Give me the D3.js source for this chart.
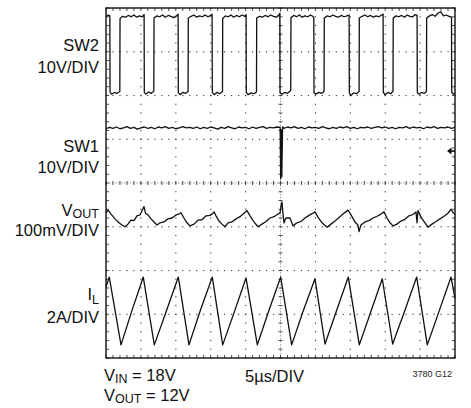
<!DOCTYPE html>
<html><head><meta charset="utf-8">
<script src="https://cdn.jsdelivr.net/npm/d3@7"></script>
<style>
html,body{margin:0;padding:0;background:#fff;}
svg{display:block;font-family:"Liberation Sans",Arial,Helvetica,sans-serif;}
</style></head>
<body>
<svg id="c" width="471" height="408"></svg>
<script>
// ---- data (time in µs, values in screen divisions; centre line = 0) ----
const timeDomain = [0, 50];          // 5 µs/DIV, 10 divisions
const divDomain = [-4, 4];           // 8 vertical divisions

const sw2 = [[0,3.80],[0.3,3.84],[0.55,3.82],[0.58,2.08],[0.8,2.03],[1.2,2.07],[1.6,2.05],[1.98,2.09],[2.01,3.76],
[2.4,3.81],[2.8,3.79],[3.2,3.83],[3.6,3.80],[4.0,3.84],[4.4,3.79],[4.8,3.82],[5.2,3.80],[5.46,3.85],[5.49,2.07],
[5.7,2.03],[6.1,2.08],[6.5,2.05],[6.85,2.10],[6.88,3.77],
[7.3,3.82],[7.7,3.80],[8.1,3.84],[8.5,3.79],[8.9,3.83],[9.3,3.81],[9.7,3.78],[10.1,3.82],[10.33,3.86],[10.36,2.06],
[10.6,2.02],[11.0,2.07],[11.4,2.05],[11.76,2.09],[11.79,3.77],
[12.2,3.81],[12.6,3.84],[13.0,3.79],[13.4,3.82],[13.8,3.80],[14.2,3.84],[14.6,3.80],[15.0,3.83],[15.2,3.86],[15.23,2.07],
[15.5,2.02],[15.9,2.07],[16.3,2.04],[16.69,2.09],[16.72,3.76],
[17.1,3.82],[17.5,3.80],[17.9,3.84],[18.3,3.79],[18.7,3.83],[19.1,3.80],[19.5,3.84],[19.9,3.81],[20.07,3.85],[20.10,2.07],
[20.35,2.02],[20.8,2.06],[21.2,2.04],[21.56,2.08],[21.59,3.77],
[22.0,3.81],[22.4,3.79],[22.8,3.83],[23.2,3.80],[23.6,3.84],[24.0,3.81],[24.4,3.79],[24.75,3.84],[24.90,3.88],[24.93,2.06],
[25.2,2.03],[25.6,2.07],[26.0,2.05],[26.3,2.09],[26.47,2.12],[26.50,3.78],
[26.9,3.83],[27.3,3.80],[27.7,3.84],[28.1,3.79],[28.5,3.82],[28.9,3.80],[29.3,3.84],[29.6,3.81],[29.77,3.79],[29.80,2.07],
[30.05,2.03],[30.5,2.07],[30.9,2.05],[31.24,2.09],[31.27,3.77],
[31.7,3.82],[32.1,3.80],[32.5,3.84],[32.9,3.81],[33.3,3.79],[33.7,3.83],[34.1,3.80],[34.5,3.82],[34.83,3.84],[34.86,2.06],
[35.1,2.00],[35.5,2.06],[35.9,2.04],[36.26,2.09],[36.29,3.77],
[36.7,3.81],[37.1,3.84],[37.5,3.80],[37.9,3.83],[38.3,3.79],[38.7,3.82],[39.1,3.80],[39.5,3.84],[39.70,3.86],[39.73,2.07],
[39.95,2.02],[40.4,2.07],[40.8,2.04],[41.12,2.10],[41.15,3.77],
[41.55,3.82],[41.95,3.80],[42.35,3.83],[42.75,3.79],[43.15,3.84],[43.55,3.81],[43.95,3.80],[44.3,3.85],[44.57,3.83],[44.60,2.07],
[44.85,2.03],[45.2,2.07],[45.6,2.05],[45.91,2.09],[45.94,3.77],
[46.35,3.82],[46.75,3.85],[47.15,3.81],[47.55,3.88],[47.95,3.91],[48.35,3.82],[48.75,3.84],[49.15,3.81],[49.50,3.79],[49.53,2.07],
[49.8,2.03],[50,2.06]];

const sw1 = [[0,1.24],[0.5,1.27],[1,1.25],[1.5,1.28],[2,1.24],[2.5,1.26],[3,1.29],[3.5,1.25],[4,1.27],[4.5,1.23],
[5,1.26],[5.5,1.28],[6,1.25],[6.5,1.27],[7,1.24],[7.5,1.28],[8,1.26],[8.5,1.29],[9,1.25],[9.5,1.27],
[10,1.24],[10.5,1.26],[11,1.29],[11.5,1.26],[12,1.27],[12.5,1.25],[13,1.28],[13.5,1.24],[14,1.27],[14.5,1.25],
[15,1.28],[15.5,1.26],[16,1.23],[16.5,1.27],[17,1.25],[17.5,1.29],[18,1.26],[18.5,1.24],[19,1.28],[19.5,1.26],
[20,1.27],[20.5,1.24],[21,1.28],[21.5,1.25],[22,1.27],[22.5,1.29],[23,1.25],[23.5,1.27],[24,1.26],[24.5,1.28],
[24.95,1.27],[25.02,0.10],[25.10,1.22],[25.18,0.14],[25.3,1.28],
[25.5,1.25],[26,1.28],[26.5,1.26],[27,1.29],[27.5,1.25],[28,1.27],[28.5,1.24],[29,1.28],[29.5,1.26],
[30,1.27],[30.5,1.25],[31,1.29],[31.5,1.26],[32,1.24],[32.5,1.27],[33,1.25],[33.5,1.28],[34,1.26],[34.5,1.29],
[35,1.25],[35.5,1.27],[36,1.24],[36.5,1.27],[37,1.26],[37.5,1.28],[38,1.25],[38.5,1.27],[39,1.29],[39.5,1.26],
[40,1.28],[40.5,1.25],[41,1.27],[41.5,1.24],[42,1.27],[42.5,1.26],[43,1.29],[43.5,1.25],[44,1.28],[44.5,1.26],
[45,1.27],[45.5,1.24],[46,1.28],[46.5,1.26],[47,1.29],[47.5,1.25],[48,1.27],[48.5,1.26],[49,1.28],[49.5,1.25],[50,1.27]];

const vout = [[0,-0.68],[0.29,-0.62],[0.72,-0.71],[1.29,-0.82],[1.86,-0.91],[2.29,-0.96],[2.72,-1.00],[3.15,-0.94],[3.58,-0.85],[4.01,-0.86],
[4.44,-0.75],[4.87,-0.73],[5.30,-0.59],[5.44,-0.54],[5.66,-0.69],[6.02,-0.73],[6.45,-0.82],[6.88,-0.89],[7.31,-0.96],[7.74,-0.91],
[8.31,-0.89],[8.88,-0.82],[9.46,-0.80],[10.03,-0.73],[10.46,-0.71],[10.74,-0.68],[11.17,-0.80],[11.60,-0.91],[12.03,-0.98],[12.61,-0.94],
[13.18,-0.85],[13.75,-0.84],[14.33,-0.75],[14.90,-0.74],[15.33,-0.69],[15.47,-0.66],[15.76,-0.75],[16.19,-0.87],[16.62,-0.94],[17.05,-1.00],
[17.48,-0.91],[18.05,-0.89],[18.62,-0.82],[19.20,-0.77],[19.77,-0.69],[20.20,-0.63],[20.63,-0.75],[21.20,-0.89],[21.78,-1.00],[22.35,-0.94],
[22.92,-0.88],[23.50,-0.80],[24.07,-0.77],[24.64,-0.71],[24.93,-0.69],[25.07,-0.53],[25.21,-0.43],[25.36,-0.71],[25.50,-0.91],[25.79,-0.80],
[26.36,-0.80],[26.79,-0.98],[27.36,-0.91],[27.94,-0.88],[28.51,-0.80],[29.08,-0.74],[29.66,-0.69],[29.94,-0.66],[30.37,-0.78],[30.95,-0.91],
[31.66,-1.01],[32.23,-0.94],[32.81,-0.87],[33.38,-0.79],[33.95,-0.71],[34.67,-0.62],[35.10,-0.73],[35.67,-0.89],[36.10,-0.96],[36.25,-1.11],
[36.53,-0.96],[37.11,-0.89],[37.68,-0.86],[38.25,-0.80],[38.83,-0.76],[39.40,-0.71],[39.83,-0.66],[40.26,-0.80],[40.69,-0.91],[41.12,-0.98],
[41.69,-0.94],[42.26,-0.87],[42.84,-0.83],[43.41,-0.75],[43.98,-0.72],[44.41,-0.66],[44.56,-0.91],[44.70,-0.63],[45.13,-0.78],[45.70,-0.91],
[46.13,-1.01],[46.70,-0.94],[47.28,-0.88],[47.85,-0.82],[48.42,-0.76],[49.00,-0.69],[49.43,-0.60],[49.71,-0.67],[50.00,-0.73]];

const il = [[0,-2.38],[0.47,-2.15],[2.15,-3.70],[3.75,-2.90],[5.34,-2.15],[6.92,-3.70],[8.6,-2.95],[10.36,-2.15],[11.89,-3.70],[13.5,-2.92],
[15.23,-2.15],[16.72,-3.70],[18.4,-2.94],[20.06,-2.17],[21.68,-3.70],[23.3,-2.93],[25.03,-2.15],[26.60,-3.70],[28.2,-2.95],[29.94,-2.19],
[31.38,-3.68],[33.0,-2.93],[34.71,-2.15],[36.29,-3.70],[37.9,-2.96],[39.58,-2.19],[41.07,-3.68],[42.8,-2.92],[44.51,-2.15],[46.03,-3.70],
[47.7,-2.94],[49.43,-2.15],[50,-2.63]];

const sw1Marker = 0.73;   // ground-level arrow for SW1 (divisions)

const channelLabels = [
  {main:"SW2", sub:"", scale:"10V/DIV"},
  {main:"SW1", sub:"", scale:"10V/DIV"},
  {main:"V", sub:"OUT", scale:"100mV/DIV"},
  {main:"I", sub:"L", scale:"2A/DIV"}
];
const footLeft = [{main:"V", sub:"IN", rest:" = 18V"}, {main:"V", sub:"OUT", rest:" = 12V"}];
const footCenter = "5µs/DIV";
const footRight = "3780 G12";

// ---- layout ----
const svg = d3.select("#c");
const L = 106, R = 455, T = 8, B = 358;
const x = d3.scaleLinear().domain(timeDomain).range([L, R]);
const y = d3.scaleLinear().domain(divDomain).range([B, T]);

const g = svg.append("g");
const minorX = d3.range(0, 50.001, 1);      // 1/5 division steps in µs
const minorY = d3.range(-4, 4.001, 0.2);

// dotted grid lines
const gridC = "#3a3a3a";
[-3,-2,-1,1,2,3].forEach(v => {
  g.selectAll(null).data(minorX).enter().append("rect")
    .attr("x", d => x(d) - 0.6).attr("y", y(v) - 0.5).attr("width", 1.2).attr("height", 1.1).attr("fill", gridC);
});
[5,10,15,20,30,35,40,45].forEach(t => {
  g.selectAll(null).data(minorY).enter().append("rect")
    .attr("x", x(t) - 0.5).attr("y", d => y(d) - 0.6).attr("width", 1.1).attr("height", 1.2).attr("fill", gridC);
});
// centre cross with ticks
g.append("line").attr("x1", L).attr("x2", R).attr("y1", y(0)).attr("y2", y(0))
  .attr("stroke", "#888").attr("stroke-width", 0.8).attr("stroke-dasharray", "1.5,1.5");
g.append("line").attr("y1", T).attr("y2", B).attr("x1", x(25)).attr("x2", x(25))
  .attr("stroke", "#888").attr("stroke-width", 0.8).attr("stroke-dasharray", "1.5,1.5");
g.selectAll(null).data(minorX).enter().append("line")
  .attr("x1", d => x(d)).attr("x2", d => x(d)).attr("y1", y(0) - 2).attr("y2", y(0) + 2)
  .attr("stroke", gridC).attr("stroke-width", 0.9);
g.selectAll(null).data(minorY).enter().append("line")
  .attr("y1", d => y(d)).attr("y2", d => y(d)).attr("x1", x(25) - 2).attr("x2", x(25) + 2)
  .attr("stroke", gridC).attr("stroke-width", 0.9);
// border ticks
g.selectAll(null).data(minorX).enter().append("line")
  .attr("x1", d => x(d)).attr("x2", d => x(d)).attr("y1", B).attr("y2", B - 3)
  .attr("stroke", gridC).attr("stroke-width", 0.9);
g.selectAll(null).data(minorX).enter().append("line")
  .attr("x1", d => x(d)).attr("x2", d => x(d)).attr("y1", T).attr("y2", T + 3)
  .attr("stroke", gridC).attr("stroke-width", 0.9);
g.selectAll(null).data(minorY).enter().append("line")
  .attr("y1", d => y(d)).attr("y2", d => y(d)).attr("x1", L).attr("x2", L + 3)
  .attr("stroke", gridC).attr("stroke-width", 0.9);
g.selectAll(null).data(minorY).enter().append("line")
  .attr("y1", d => y(d)).attr("y2", d => y(d)).attr("x1", R).attr("x2", R - 3)
  .attr("stroke", gridC).attr("stroke-width", 0.9);
// frame
g.append("rect").attr("x", L).attr("y", T).attr("width", R - L).attr("height", B - T)
  .attr("fill", "none").attr("stroke", "#111").attr("stroke-width", 1.4);

// traces
const line = d3.line().x(d => x(d[0])).y(d => y(d[1]));
[sw2, sw1, vout, il].forEach(s => {
  g.append("path").datum(s).attr("d", line).attr("fill", "none")
    .attr("stroke", "#111").attr("stroke-width", 1.3).attr("stroke-linejoin", "round");
});

// SW1 marker arrow
const my = y(sw1Marker);
g.append("path").attr("d", `M${R-8},${my} L${R-3.5},${my-3.5} L${R-3.5},${my+3.5} Z`).attr("fill", "#111");
g.append("line").attr("x1", R - 4).attr("x2", R).attr("y1", my).attr("y2", my).attr("stroke", "#111").attr("stroke-width", 1.6);

// channel labels
const labelX = 99, fs = 16.5, sfs = 12.5;
const labelY = [[51, 73], [152, 173], [215.5, 235.5], [300, 323]];
channelLabels.forEach((c, i) => {
  const t1 = svg.append("text").attr("x", labelX).attr("y", labelY[i][0]).attr("text-anchor", "end")
    .attr("font-size", fs).attr("fill", "#111");
  t1.append("tspan").text(c.main);
  if (c.sub) t1.append("tspan").attr("font-size", sfs).attr("dy", c.sub === "L" ? 4 : 2.5).text(c.sub);
  svg.append("text").attr("x", labelX).attr("y", labelY[i][1]).attr("text-anchor", "end")
    .attr("font-size", fs).attr("fill", "#111").text(c.scale);
});

// footer condition lines
[381, 401].forEach((yy, i) => {
  const f = footLeft[i];
  const t = svg.append("text").attr("x", 104).attr("y", yy).attr("font-size", fs).attr("fill", "#111");
  t.append("tspan").text(f.main);
  t.append("tspan").attr("font-size", sfs).attr("dy", 2).text(f.sub);
  t.append("tspan").attr("dy", -2).text(f.rest);
});
svg.append("text").attr("x", 245).attr("y", 382).attr("font-size", fs).attr("fill", "#111").text(footCenter);
svg.append("text").attr("x", 452).attr("y", 377).attr("text-anchor", "end").attr("font-size", 9).attr("fill", "#222").text(footRight);
</script>
</body></html>
